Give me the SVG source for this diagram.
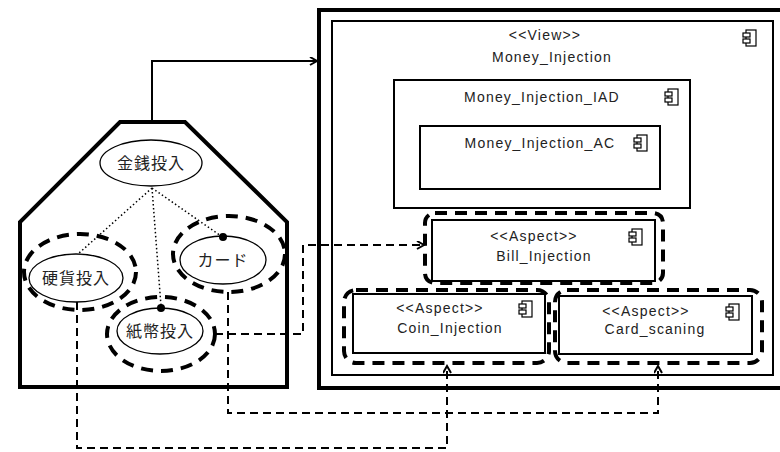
<svg xmlns="http://www.w3.org/2000/svg" width="780" height="452" viewBox="0 0 780 452">
<style>
.box{fill:none;stroke:#000;stroke-width:2}
.thick{fill:none;stroke:#000;stroke-width:4}
.dout{fill:none;stroke:#000;stroke-width:4;stroke-dasharray:12 8}
.uc{fill:#fff;stroke:#000;stroke-width:1.3}
.t{font-family:"Liberation Sans",Arial,sans-serif;font-size:14px;letter-spacing:1.2px;fill:#222;text-anchor:middle}
.jp{font-family:"Noto Sans CJK JP","Noto Sans",sans-serif;font-size:16px;letter-spacing:1px;fill:#222;text-anchor:middle}
.dash{fill:none;stroke:#000;stroke-width:2;stroke-dasharray:8 5}
.dot{fill:none;stroke:#000;stroke-width:1.5;stroke-dasharray:1.5 2.5}
.ico{fill:#fff;stroke:#000;stroke-width:1.2}
</style>
<defs>
<marker id="arr" markerWidth="10" markerHeight="10" refX="8" refY="4" orient="auto" markerUnits="userSpaceOnUse">
<path d="M1,0 L8,4 L1,8" fill="none" stroke="#000" stroke-width="2"/>
</marker>
<g id="icon">
<rect class="ico" x="0" y="0" width="10" height="16"/>
<rect class="ico" x="-3" y="3" width="7" height="4"/>
<rect class="ico" x="-3" y="9" width="7" height="4"/>
</g>
</defs>
<rect width="780" height="452" fill="#fff"/>

<g id="usecase-package">
<path class="thick" d="M120,122 L185,122 L287,222 L287,387 L20,387 L20,222 Z"/>
</g>
<g id="uc-kinsen">
<ellipse class="uc" cx="151" cy="163" rx="51" ry="23"/>
<text class="jp" x="151" y="169">金銭投入</text>
</g>
<g id="uc-kouka">
<ellipse class="dout" cx="80" cy="272" rx="56" ry="38"/>
<ellipse class="uc" cx="76" cy="278" rx="47" ry="24"/>
<text class="jp" x="76" y="284">硬貨投入</text>
</g>
<g id="uc-card">
<ellipse class="dout" cx="229" cy="254" rx="56" ry="38"/>
<ellipse class="uc" cx="223" cy="260" rx="43" ry="24"/>
<text class="jp" x="223" y="266">カード</text>
<circle cx="223" cy="237" r="4" fill="#000"/>
</g>
<g id="uc-shihei">
<ellipse class="dout" cx="161" cy="334" rx="54" ry="37"/>
<ellipse class="uc" cx="160" cy="331" rx="43" ry="23"/>
<text class="jp" x="160" y="337">紙幣投入</text>
<circle cx="161" cy="308" r="4" fill="#000"/>
</g>

<g id="view-frame">
<rect class="thick" x="319" y="10" width="480" height="378"/>
<rect class="box" x="332" y="21" width="441" height="354"/>
<text class="t" x="545" y="40">&lt;&lt;View&gt;&gt;</text>
<text class="t" x="552" y="62">Money_Injection</text>
<use href="#icon" x="746" y="30"/>
</g>
<g id="iad">
<rect class="box" x="394" y="80" width="296" height="128"/>
<text class="t" x="542" y="102">Money_Injection_IAD</text>
<use href="#icon" x="668" y="89"/>
</g>
<g id="ac">
<rect class="box" x="420" y="126" width="240" height="63"/>
<text class="t" x="540" y="148">Money_Injection_AC</text>
<use href="#icon" x="637" y="135"/>
</g>
<g id="bill">
<rect class="dout" x="425" y="213" width="238" height="70" rx="10"/>
<rect class="box" x="432" y="220" width="223" height="61" fill="#fff"/>
<text class="t" x="534" y="241">&lt;&lt;Aspect&gt;&gt;</text>
<text class="t" x="544" y="261">Bill_Injection</text>
<use href="#icon" x="632" y="229"/>
</g>
<g id="coin">
<rect class="dout" x="344" y="290" width="205" height="73" rx="12"/>
<rect class="box" x="353" y="294" width="192" height="59" fill="#fff"/>
<text class="t" x="440" y="313">&lt;&lt;Aspect&gt;&gt;</text>
<text class="t" x="450" y="333">Coin_Injection</text>
<use href="#icon" x="522" y="301"/>
</g>
<g id="cardscan">
<rect class="dout" x="555" y="290" width="207" height="73" rx="12"/>
<rect class="box" x="559" y="296" width="193" height="58" fill="#fff"/>
<text class="t" x="646" y="316">&lt;&lt;Aspect&gt;&gt;</text>
<text class="t" x="655" y="334">Card_scaning</text>
<use href="#icon" x="729" y="304"/>
</g>

<g id="connectors">
<path d="M152,122 L152,61 L317,61" fill="none" stroke="#000" stroke-width="2" marker-end="url(#arr)"/>
<path class="dot" d="M152,188 L78,254"/>
<path class="dot" d="M152,188 L161,306"/>
<path class="dot" d="M152,188 L221,236"/>
<path class="dash" d="M228,292 L228,413 L658,413 L658,366" marker-end="url(#arr)"/>
<path class="dash" d="M215,334 L303,334 L303,245 L424,245" marker-end="url(#arr)"/>
<path class="dash" d="M77,302 L77,448 L447,448 L447,366" marker-end="url(#arr)"/>
</g>
</svg>
